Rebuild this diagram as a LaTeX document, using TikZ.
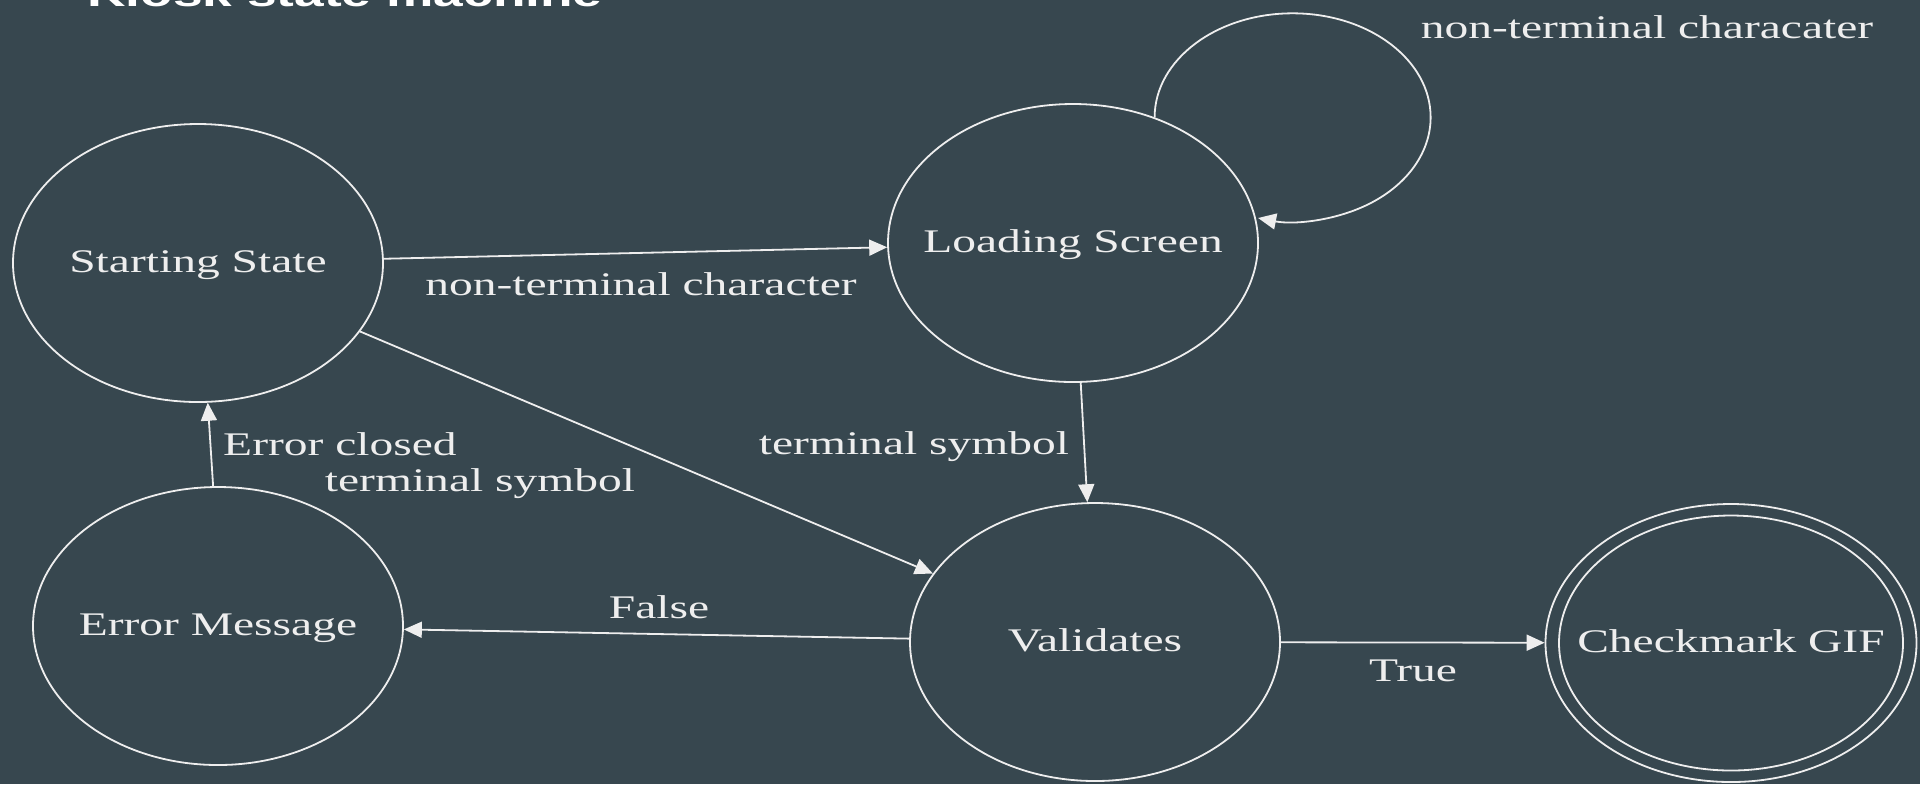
\documentclass[tikz,border=0pt]{standalone}
\usepackage{fontspec}
\setmainfont{Liberation Serif}[FakeStretch=1.44]
\newfontfamily\titlefont{Liberation Sans}[FakeStretch=1.44]
\usetikzlibrary{shapes.geometric,arrows.meta}
\definecolor{bg}{HTML}{37474F}
\definecolor{fg}{HTML}{EEEEEE}
\begin{document}
\begin{tikzpicture}[x=0.5pt,y=-0.5pt,
  state/.style={ellipse, draw=fg, line width=0.9pt, minimum width=185pt, minimum height=139pt,
    inner sep=0pt, text=fg, font=\fontsize{16.5}{20}\selectfont, text height=1.0em, text depth=0.05em},
  lbl/.style={text=fg, font=\fontsize{16.5}{20}\selectfont, anchor=base, inner sep=0pt},
  edge/.style={draw=fg, line width=0.9pt, -{Triangle[length=9pt,width=8pt]}}]
\fill[bg] (0,0) rectangle (1920,784);
\useasboundingbox (0,0) rectangle (1920,784);

\node[anchor=base west, text=white, inner sep=0pt,
  font=\titlefont\fontsize{18.5}{22}\selectfont\bfseries] (title) at (87,6) {Kiosk state machine};

\node[state] (start) at (198,263) {\makebox[0pt]{Starting State}};
\node[state] (load) at (1073,243) {\makebox[0pt]{Loading Screen}};
\node[state] (valid) at (1095,642) {\makebox[0pt]{Validates}};
\node[state] (err) at (218,626) {\makebox[0pt]{Error Message}};
\node[state, minimum width=185.5pt] (check) at (1731,643) {\makebox[0pt]{Checkmark GIF}};
\draw[fg, line width=0.9pt] (check.center) ellipse [x radius=86pt, y radius=63.75pt];

\draw[edge] (start) -- (load);
\draw[edge] (start) -- (valid);
\draw[edge] (load) -- (valid);
\draw[edge] (valid) -- (err);
\draw[edge] (err.92.5) -- (start.274);
\draw[edge] (valid) -- (check);
\draw[edge] (load.57) arc[start angle=180, end angle=-104.5, x radius=69pt, y radius=52pt];

\node[lbl] (l1) at (641,295) {non-terminal character};
\node[lbl] (l2) at (480,491) {terminal symbol};
\node[lbl] (l3) at (914,454) {terminal symbol};
\node[lbl] (l4) at (340,455) {Error closed};
\node[lbl] (l5) at (659,618) {False};
\node[lbl] (l6) at (1413,681) {True};
\node[lbl] (l7) at (1647,38) {non-terminal characater};
\end{tikzpicture}
\end{document}
